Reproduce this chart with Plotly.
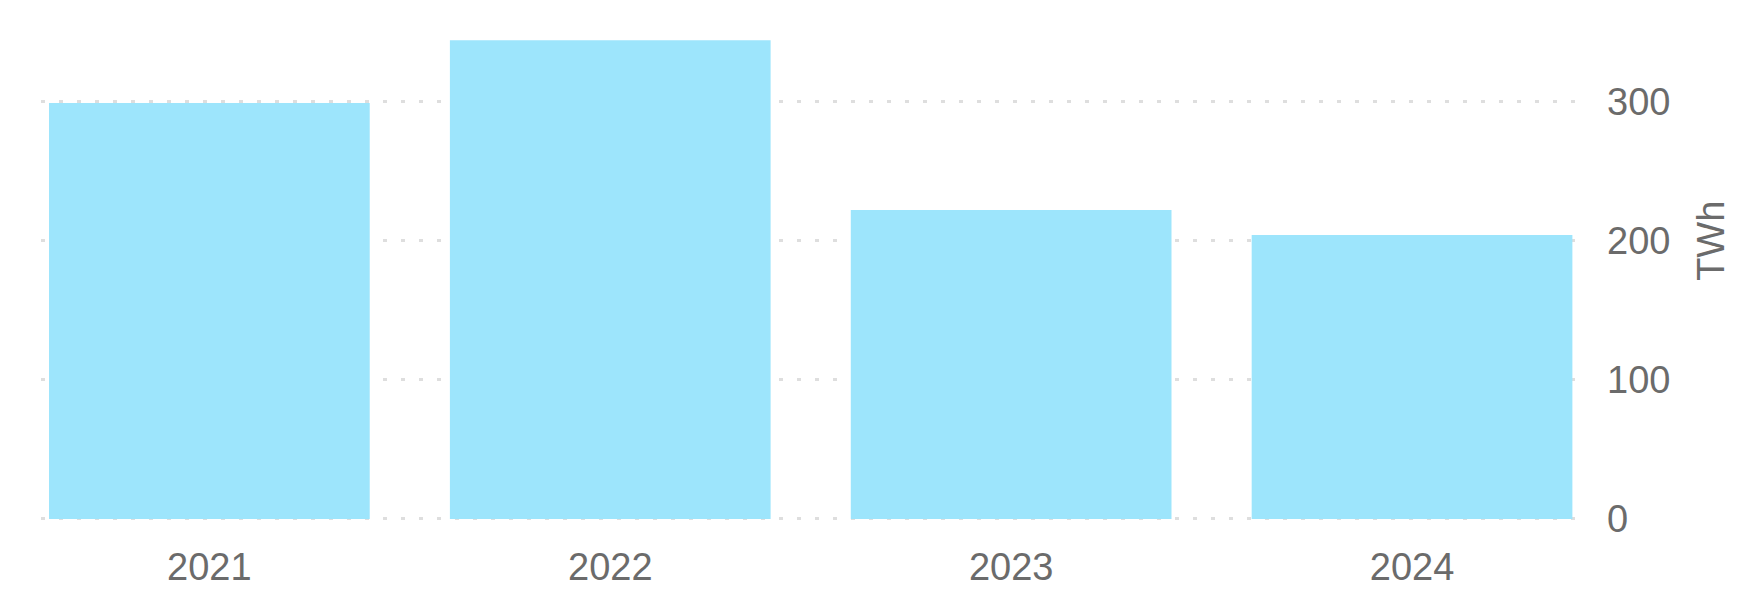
import plotly.graph_objects as go

years = ["2021", "2022", "2023", "2024"]
twh = [299, 344, 222, 204]
y_ticks = [0, 100, 200, 300]

bar_color = "#9DE5FC"
text_color = "#6b6b6b"
font_family = "Liberation Sans, Arial, sans-serif"

fig = go.Figure()
fig.add_trace(go.Bar(x=[0, 1, 2, 3], y=twh, marker=dict(color=bar_color, line=dict(width=0)),
                     hoverinfo="skip"))

fig.update_layout(
    width=1746, height=592,
    margin=dict(l=33, r=176, t=24, b=68),
    paper_bgcolor="white", plot_bgcolor="white",
    bargap=0.2,
    showlegend=False,
    font=dict(family=font_family, color=text_color, size=38),
)
fig.update_xaxes(
    range=[-0.42, 3.414],
    tickvals=[0, 1, 2, 3], ticktext=years,
    showgrid=False, zeroline=False, showline=False,
    ticks="", ticklabelstandoff=20,
    tickfont=dict(size=38, color=text_color),
)
fig.update_yaxes(
    side="right", range=[-1.5, 350],
    tickvals=y_ticks,
    showgrid=True, gridcolor="#dedede", gridwidth=3, griddash="4px,14px",
    zeroline=False, showline=False, ticks="",
    ticklabelstandoff=28,
    tickfont=dict(size=38, color=text_color),
)
fig.add_annotation(
    text="TWh", xref="paper", yref="y", x=1.086, y=200,
    showarrow=False, textangle=-90, font=dict(size=38, color=text_color),
    xanchor="center", yanchor="middle",
)
fig.write_html("out.html")
